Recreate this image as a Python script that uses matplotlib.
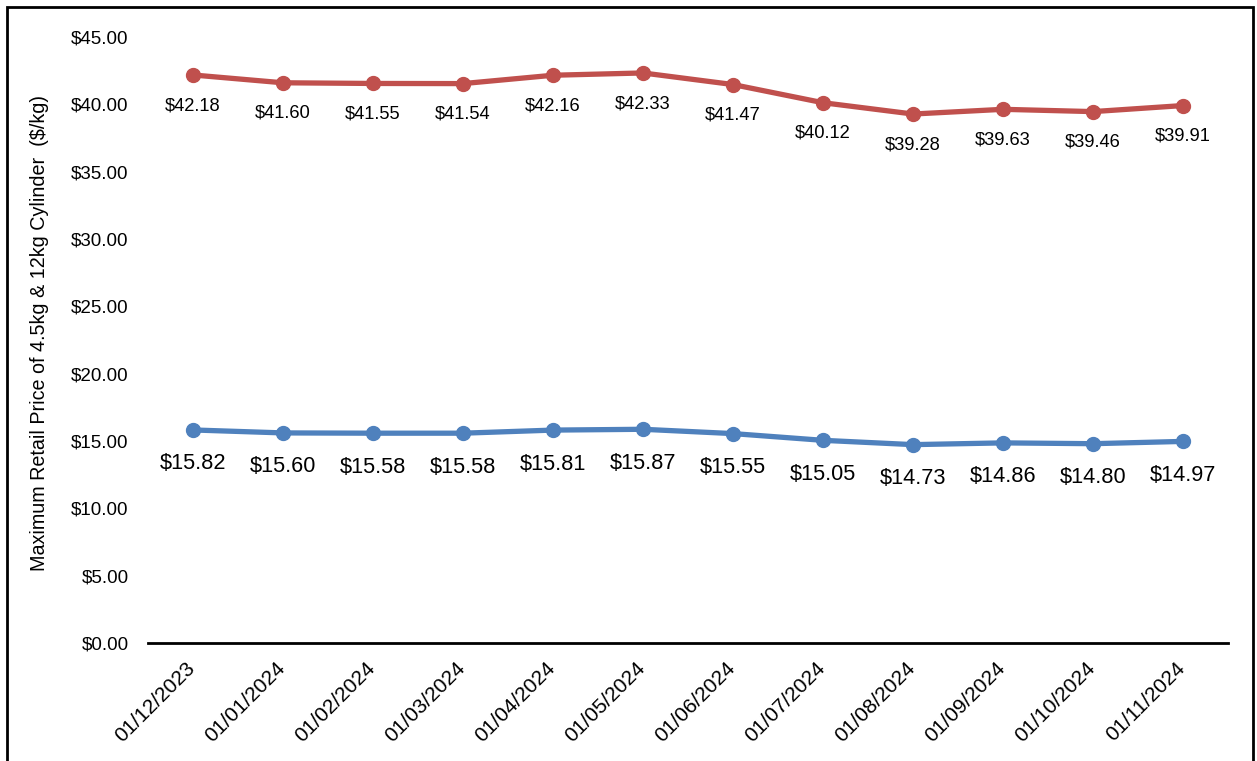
import matplotlib.pyplot as plt
from matplotlib.patches import Rectangle
from matplotlib.transforms import ScaledTranslation

plt.rcParams['font.family'] = ['Liberation Sans', 'DejaVu Sans']

dates = ['01/12/2023', '01/01/2024', '01/02/2024', '01/03/2024', '01/04/2024', '01/05/2024',
         '01/06/2024', '01/07/2024', '01/08/2024', '01/09/2024', '01/10/2024', '01/11/2024']
price_45kg = [42.18, 41.60, 41.55, 41.54, 42.16, 42.33, 41.47, 40.12, 39.28, 39.63, 39.46, 39.91]
price_12kg = [15.82, 15.60, 15.58, 15.58, 15.81, 15.87, 15.55, 15.05, 14.73, 14.86, 14.80, 14.97]
y_ticks = [0, 5, 10, 15, 20, 25, 30, 35, 40, 45]

red = '#C0504D'
blue = '#4F81BD'

fig = plt.figure(figsize=(12.57, 7.61), dpi=100)
ax = fig.add_axes([148/1257, 1 - 643/761, (1228 - 148)/1257, (643 - 37)/761])

x = list(range(len(dates)))
ax.plot(x, price_45kg, color=red, lw=3.8, marker='o', ms=10, solid_capstyle='round')
ax.plot(x, price_12kg, color=blue, lw=3.8, marker='o', ms=10, solid_capstyle='round')

for xi, v in zip(x, price_45kg):
    ax.annotate(f'${v:.2f}', (xi, v), xytext=(0, -22), textcoords='offset points',
                ha='center', va='center', fontsize=13.2)
for xi, v in zip(x, price_12kg):
    ax.annotate(f'${v:.2f}', (xi, v), xytext=(0, -24.5), textcoords='offset points',
                ha='center', va='center', fontsize=15.7)

ax.set_xlim(-0.5, len(dates) - 0.5)
ax.set_ylim(0, 45)
ax.set_yticks(y_ticks)
ax.set_yticklabels([f'${t:.2f}' for t in y_ticks], fontsize=13.5)
ax.set_xticks(x)
ax.set_xticklabels(dates, rotation=45, ha='right', rotation_mode='anchor', fontsize=15)
ax.tick_params(axis='both', length=0)
ax.tick_params(axis='y', pad=14)
ax.tick_params(axis='x', pad=11)
shift = ScaledTranslation(-8/100, 0, fig.dpi_scale_trans)
for lab in ax.get_xticklabels():
    lab.set_transform(lab.get_transform() + shift)

for s in ['top', 'right', 'left']:
    ax.spines[s].set_visible(False)
ax.spines['bottom'].set_linewidth(2)

ax.set_ylabel('Maximum Retail Price of 4.5kg & 12kg Cylinder  ($/kg)', fontsize=14.2)
ax.yaxis.set_label_coords(-0.0915, 0.512)

fig.patches.append(Rectangle((7/1257, -0.02), (1253 - 7)/1257, 1.02 - 7/761,
                             transform=fig.transFigure, fill=False, edgecolor='black', lw=2))

fig.savefig('out.png', dpi=100)
